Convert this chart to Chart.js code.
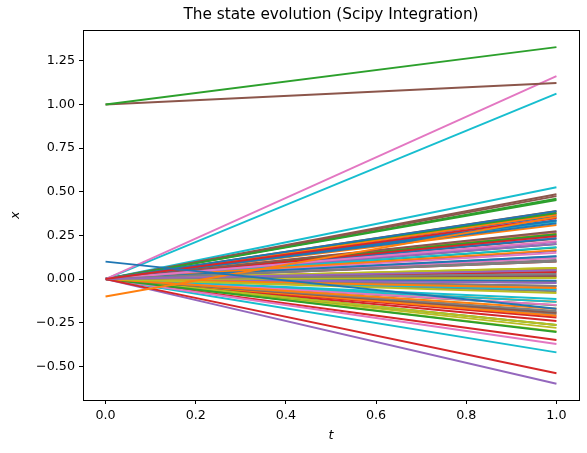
<!DOCTYPE html>
<html>
<head>
<meta charset="utf-8">
<script src="https://cdn.jsdelivr.net/npm/chart.js@4.4.0/dist/chart.umd.min.js"></script>
<style>
  html, body { margin: 0; padding: 0; background: #ffffff; }
  #wrap { width: 587px; height: 453px; }
</style>
</head>
<body>
<div id="wrap"><canvas id="stateChart" width="587" height="453"></canvas></div>
<script>
// time points of the integration
const timePoints = [0, 1];

// state at t = 0 (most states start at zero)
const startValues = [
    0.1, -0.1, 1.0, 0, 0, 1.0, 0, 0, 0, 0
];

// state at t = 1, one per line
const endValues = [
    -0.17, 0.355, 1.329, 0.349, 0.05, 1.123, 1.163, 0.105, 0.063, 1.062,
    0.389, 0.366, 0.452, -0.54, -0.6, 0.486, 0.217, 0.029, -0.08, 0.526,
    0.337, -0.17, -0.303, 0.04, 0.212, 0.274, -0.372, -0.183, 0.006, -0.42,
    0.131, 0.166, 0.377, -0.349, 0.051, -0.194, 0.12, 0.109, -0.263, -0.114,
    0.32, -0.051, -0.263, 0.246, -0.023, 0.017, -0.149, -0.04, 0.063, 0.183,
    0.234, -0.21, 0.257, 0.06, 0.2, 0.475, 0.24, -0.19, -0.28, -0.131,
    0.335, 0.26, 0.46, 0.37, 0.02, 0.23, 0.15, -0.2, 0.01, 0.33,
    -0.01, -0.011, 0.18, -0.22, 0.16, -0.04, 0.35, 0.1, -0.3, -0.06,
    0.25, 0.31, -0.15, 0.1, -0.06, 0.39, -0.21, 0.13, 0.045, 0.045,
    0.36, -0.13, 0.2, -0.24, 0.27, 0.38, 0.03, -0.07, 0.055, -0.02
];

const xTickValues = [0.0, 0.2, 0.4, 0.6, 0.8, 1.0];
const yTickValues = [-0.50, -0.25, 0.00, 0.25, 0.50, 0.75, 1.00, 1.25];

const palette = ['#1f77b4', '#ff7f0e', '#2ca02c', '#d62728', '#9467bd',
                 '#8c564b', '#e377c2', '#7f7f7f', '#bcbd22', '#17becf'];

const datasets = endValues.map(function(end, i) {
    const start = i < startValues.length ? startValues[i] : 0;
    return {
        data: [
            { x: timePoints[0], y: start },
            { x: timePoints[1], y: end }
        ],
        borderColor: palette[i % palette.length],
        borderWidth: 1.9,
        pointRadius: 0,
        tension: 0,
        fill: false
    };
});

const frameBox = {
    id: 'frameBox',
    afterDraw(chart) {
        const {ctx, chartArea} = chart;
        ctx.save();
        ctx.strokeStyle = '#000000';
        ctx.lineWidth = 1;
        ctx.strokeRect(Math.round(chartArea.left) + 0.5, Math.round(chartArea.top) + 0.5,
            Math.round(chartArea.right - chartArea.left), Math.round(chartArea.bottom - chartArea.top));
        ctx.restore();
    }
};

const baseFont = { family: 'DejaVu Sans', size: 12.7 };

new Chart(document.getElementById('stateChart').getContext('2d'), {
    type: 'line',
    data: { datasets: datasets },
    options: {
        responsive: false,
        animation: false,
        layout: { padding: { left: 0, right: 8, top: 0, bottom: 0 } },
        plugins: {
            legend: { display: false },
            tooltip: { enabled: false },
            title: {
                display: true,
                fullSize: false,
                text: 'The state evolution (Scipy Integration)',
                color: '#000000',
                font: { family: 'DejaVu Sans', size: 15.3, weight: 'normal', lineHeight: 1.2 },
                padding: { top: 6, bottom: 6 }
            }
        },
        scales: {
            x: {
                type: 'linear',
                min: -0.05,
                max: 1.05,
                afterFit: function(scale) { scale.height = 53; },
                afterBuildTicks: function(scale) {
                    scale.ticks = xTickValues.map(function(v) { return { value: v }; });
                },
                grid: { drawOnChartArea: false, tickLength: 4, color: '#000000', tickWidth: 1 },
                border: { display: false },
                ticks: {
                    color: '#000000',
                    font: baseFont,
                    padding: 4,
                    maxRotation: 0,
                    callback: function(value) { return Number(value).toFixed(1); }
                },
                title: {
                    display: true,
                    text: 't',
                    color: '#000000',
                    font: { family: 'DejaVu Sans', size: 12.7, style: 'italic', lineHeight: 1.2 },
                    padding: { top: 0, bottom: 10 }
                }
            },
            y: {
                type: 'linear',
                min: -0.693,
                max: 1.425,
                afterFit: function(scale) { scale.width = 83; },
                afterBuildTicks: function(scale) {
                    scale.ticks = yTickValues.map(function(v) { return { value: v }; });
                },
                grid: { drawOnChartArea: false, tickLength: 4, color: '#000000', tickWidth: 1 },
                border: { display: false },
                ticks: {
                    color: '#000000',
                    font: baseFont,
                    padding: 4,
                    callback: function(value) {
                        return Number(value).toFixed(2).replace('-', '\u2212');
                    }
                },
                title: {
                    display: true,
                    text: 'x',
                    color: '#000000',
                    font: { family: 'DejaVu Sans', size: 12.7, style: 'italic', lineHeight: 1.2 },
                    padding: { top: 8, bottom: 0 }
                }
            }
        }
    },
    plugins: [frameBox]
});
</script>
</body>
</html>
